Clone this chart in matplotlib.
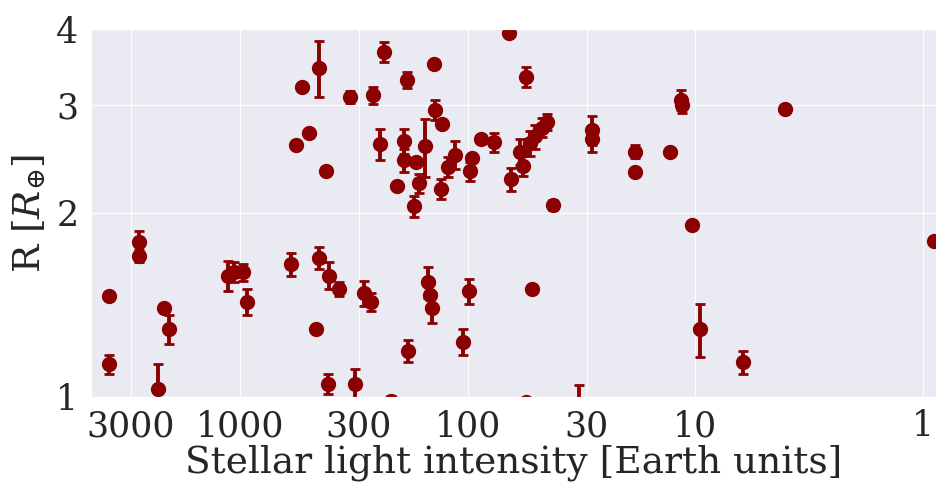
import matplotlib
matplotlib.use("Agg")
import matplotlib.pyplot as plt
import matplotlib.ticker as mticker
import seaborn as sns

# stellar flux (Earth units), planet radius (Earth radii), radius error
flux = [449, 533, 328, 260, 232, 497, 567, 418, 242, 65.9,
        55.5, 139.7, 183.8, 138.3, 128.9, 87.7, 76.8, 189.5, 189.5, 167.8,
        153, 203, 162.6, 171, 130.2, 121.3, 113, 96, 98, 64.7,
        59, 57.3, 53.3, 50.7, 47.2, 44.9, 42.2, 28.4, 28.4, 18.4,
        18.4, 12.9, 11.6, 11.5, 4.05, 10.3, 0.894,
        3740, 3740, 2760, 2760, 2160, 2034, 2275, 1129, 1063, 970,
        931, 596, 449, 405, 366, 463, 410, 311, 284, 265,
        216, 182, 148.5, 145.6, 142.6, 99, 104.2, 52.2, 55.5, 32.4,
        9.5, 6.21]
radius = [3.46, 3.22, 3.10, 3.12, 3.67, 2.70, 2.58, 2.34, 2.59, 3.94,
          3.34, 3.51, 3.30, 2.95, 2.80, 2.64, 2.61, 2.62, 2.44, 2.42,
          2.57, 2.21, 2.24, 2.05, 2.19, 2.38, 2.49, 2.46, 2.34, 2.27,
          2.52, 2.39, 2.60, 2.67, 2.76, 2.82, 2.06, 2.73, 2.64, 2.52,
          2.33, 2.52, 3.06, 3.00, 2.96, 1.91, 1.80,
          1.46, 1.13, 1.79, 1.70, 1.40, 1.29, 1.03, 1.58, 1.60, 1.60,
          1.43, 1.65, 1.69, 1.58, 1.50, 1.29, 1.05, 1.05, 1.48, 1.43,
          0.985, 1.19, 1.54, 1.47, 1.40, 1.49, 1.23, 1.50, 0.981, 0.974,
          1.29, 1.14]
radius_err = [0.36, 0.0, 0.07, 0.10, 0.14, 0.0, 0.0, 0.0, 0.15, 0.0,
              0.13, 0.0, 0.10, 0.11, 0.0, 0.0, 0.09, 0.12, 0.11, 0.0,
              0.28, 0.0, 0.08, 0.08, 0.08, 0.09, 0.13, 0.0, 0.08, 0.10,
              0.12, 0.09, 0.12, 0.12, 0.10, 0.085, 0.04, 0.15, 0.12, 0.06,
              0.0, 0.0, 0.115, 0.09, 0.0, 0.0, 0.0,
              0.0, 0.04, 0.08, 0.04, 0.0, 0.07, 0.10, 0.09, 0.06, 0.05,
              0.07, 0.07, 0.07, 0.08, 0.04, 0.0, 0.04, 0.06, 0.07, 0.05,
              0.02, 0.05, 0.09, 0.06, 0.08, 0.07, 0.06, 0.0, 0.015, 0.07,
              0.13, 0.05]

xticks = [3000, 1000, 300, 100, 30, 10, 1]
yticks = [1, 2, 3, 4]

sns.set_style("darkgrid")
plt.rcParams["font.family"] = ["DejaVu Serif"]
plt.rcParams["mathtext.fontset"] = "dejavuserif"

fig = plt.figure(figsize=(9.37, 4.93), dpi=100)
ax = fig.add_axes([0.097, 0.195, 0.903, 0.746])

ax.errorbar(flux, radius, yerr=radius_err, fmt="o", color="darkred",
            ms=10, elinewidth=2.8, capsize=3.5, capthick=2)

ax.set_xscale("log")
ax.set_yscale("log")
ax.set_xlim(4500, 0.87)
ax.set_ylim(1, 4)
ax.xaxis.set_major_locator(mticker.FixedLocator(xticks))
ax.xaxis.set_minor_locator(mticker.NullLocator())
ax.xaxis.set_major_formatter(mticker.FixedFormatter([str(t) for t in xticks]))
ax.yaxis.set_major_locator(mticker.FixedLocator(yticks))
ax.yaxis.set_minor_locator(mticker.NullLocator())
ax.yaxis.set_major_formatter(mticker.FixedFormatter([str(t) for t in yticks]))
ax.tick_params(labelsize=25, length=0, pad=9)

ax.set_xlabel("Stellar light intensity [Earth units]", fontsize=27, labelpad=1)
ax.set_ylabel(r"R [$R_{\oplus}$]", fontsize=27, labelpad=6)

fig.savefig("out.png", dpi=100)
